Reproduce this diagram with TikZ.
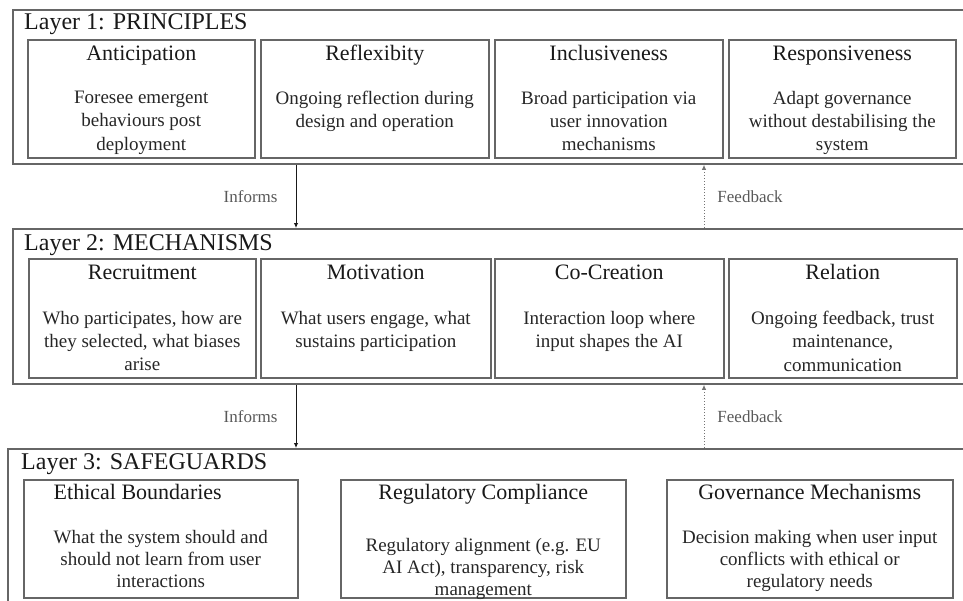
\documentclass[tikz,border=0pt]{standalone}
\usepackage{fontspec}
\setmainfont{Liberation Serif}
\usetikzlibrary{arrows.meta}

\tikzset{
	layerbox/.style={draw=black!60, line width=1.8pt, rectangle, anchor=north west, inner sep=0pt},
	itembox/.style={draw=black!60, line width=1.5pt, rectangle, anchor=north west, inner sep=0pt, minimum height=118pt},
	layertitle/.style={anchor=base west, inner sep=0pt, text=black!90, font=\fontsize{24}{28}\selectfont},
	itemtitle/.style={anchor=base, inner sep=0pt, text=black!90, font=\fontsize{22}{26}\selectfont},
	itemtext/.style={anchor=north, inner sep=0pt, align=center, text=black!85, font=\fontsize{19}{23.3}\selectfont,
		execute at begin node={\rule{0pt}{14pt}}},
	flowlabel/.style={inner sep=0pt, text=black!65, font=\fontsize{17}{20}\selectfont},
	informs/.style={draw=black!90, line width=0.9pt, -{Latex[length=5pt,width=4.5pt]}},
	feedback/.style={draw=black!55, line width=0.9pt, dotted, -{Latex[length=5pt,width=4.5pt]}}
}

\begin{document}
\begin{tikzpicture}[x=1pt, y=-1pt]
		\useasboundingbox (0,0) rectangle (963,600);
		\clip (0,0) rectangle (963,600);

		% layer 1
		\node (L1) [layerbox, minimum width=960pt, minimum height=154pt] at (12,9) {};
		\node (L1t) [layertitle] at (24,29) {Layer 1: PRINCIPLES};
		\node (p1) [itembox, minimum width=227pt] at (27,39) {};
		\node (p2) [itembox, minimum width=228pt] at (260,39) {};
		\node (p3) [itembox, minimum width=228pt] at (494,39) {};
		\node (p4) [itembox, minimum width=227pt] at (728,39) {};
		\node (p1t) [itemtitle] at ([yshift=-21pt]p1.north) {Anticipation};
		\node (p2t) [itemtitle] at ([yshift=-21pt]p2.north) {Reflexibity};
		\node (p3t) [itemtitle] at ([yshift=-21pt]p3.north) {Inclusiveness};
		\node (p4t) [itemtitle] at ([yshift=-21pt]p4.north) {Responsiveness};
		\node (p1b) [itemtext] at ([yshift=-52pt]p1.north) {Foresee emergent\\behaviours post\\deployment};
		\node (p2b) [itemtext] at ([yshift=-52pt]p2.north) {Ongoing reflection during\\design and operation};
		\node (p3b) [itemtext] at ([yshift=-52pt]p3.north) {Broad participation via\\user innovation\\mechanisms};
		\node (p4b) [itemtext] at ([yshift=-52pt]p4.north) {Adapt governance\\without destabilising the\\system};

		% layer 2
		\node (L2) [layerbox, minimum width=960pt, minimum height=155pt] at (12,228) {};
		\node (L2t) [layertitle] at (24,250) {Layer 2: MECHANISMS};
		\node (m1) [itembox, minimum width=227pt, minimum height=119pt] at (28,258) {};
		\node (m2) [itembox, minimum width=230pt, minimum height=119pt] at (260,258) {};
		\node (m3) [itembox, minimum width=229pt, minimum height=119pt] at (494,258) {};
		\node (m4) [itembox, minimum width=228pt, minimum height=119pt] at (728,258) {};
		\node (m1t) [itemtitle] at ([yshift=-21pt]m1.north) {Recruitment};
		\node (m2t) [itemtitle] at ([yshift=-21pt]m2.north) {Motivation};
		\node (m3t) [itemtitle] at ([yshift=-21pt]m3.north) {Co-Creation};
		\node (m4t) [itemtitle] at ([yshift=-21pt]m4.north) {Relation};
		\node (m1b) [itemtext] at ([yshift=-53pt]m1.north) {Who participates, how are\\they selected, what biases\\arise};
		\node (m2b) [itemtext] at ([yshift=-53pt]m2.north) {What users engage, what\\sustains participation};
		\node (m3b) [itemtext] at ([yshift=-53pt]m3.north) {Interaction loop where\\input shapes the AI};
		\node (m4b) [itemtext] at ([yshift=-53pt]m4.north) {Ongoing feedback, trust\\maintenance,\\communication};

		% layer 3
		\node (L3) [layerbox, minimum width=965pt, minimum height=180pt] at (7,448) {};
		\node (L3t) [layertitle] at (21,469) {Layer 3: SAFEGUARDS};
		\node (s1) [itembox, minimum width=274pt] at (23,479) {};
		\node (s2) [itembox, minimum width=285pt] at (340,479) {};
		\node (s3) [itembox, minimum width=286pt] at (666,479) {};
		\node (s1t) [itemtitle] at ([xshift=-23pt, yshift=-20pt]s1.north) {Ethical Boundaries};
		\node (s2t) [itemtitle] at ([yshift=-20pt]s2.north) {Regulatory Compliance};
		\node (s3t) [itemtitle] at ([yshift=-20pt]s3.north) {Governance Mechanisms};
		\node (s1b) [itemtext, font=\fontsize{19}{22}\selectfont] at ([yshift=-51pt]s1.north) {What the system should and\\should not learn from user\\interactions};
		\node (s2b) [itemtext, font=\fontsize{19}{22}\selectfont] at ([yshift=-59pt]s2.north) {Regulatory alignment (e.g. EU\\AI Act), transparency, risk\\management};
		\node (s3b) [itemtext, font=\fontsize{19}{22}\selectfont] at ([yshift=-51pt]s3.north) {Decision making when user input\\conflicts with ethical or\\regulatory needs};

		% connectors between the layers
		\coordinate (inf) at (296,0);
		\coordinate (fb) at (704,0);
		\draw[informs] (L1.south -| inf) -- (L2.north -| inf) node[midway, left=18pt, flowlabel] {Informs};
		\draw[feedback] (L2.north -| fb) -- (L1.south -| fb) node[midway, right=13pt, flowlabel] {Feedback};
		\draw[informs] (L2.south -| inf) -- (L3.north -| inf) node[midway, left=18pt, flowlabel] {Informs};
		\draw[feedback] (L3.north -| fb) -- (L2.south -| fb) node[midway, right=13pt, flowlabel] {Feedback};
	\end{tikzpicture}
\end{document}
